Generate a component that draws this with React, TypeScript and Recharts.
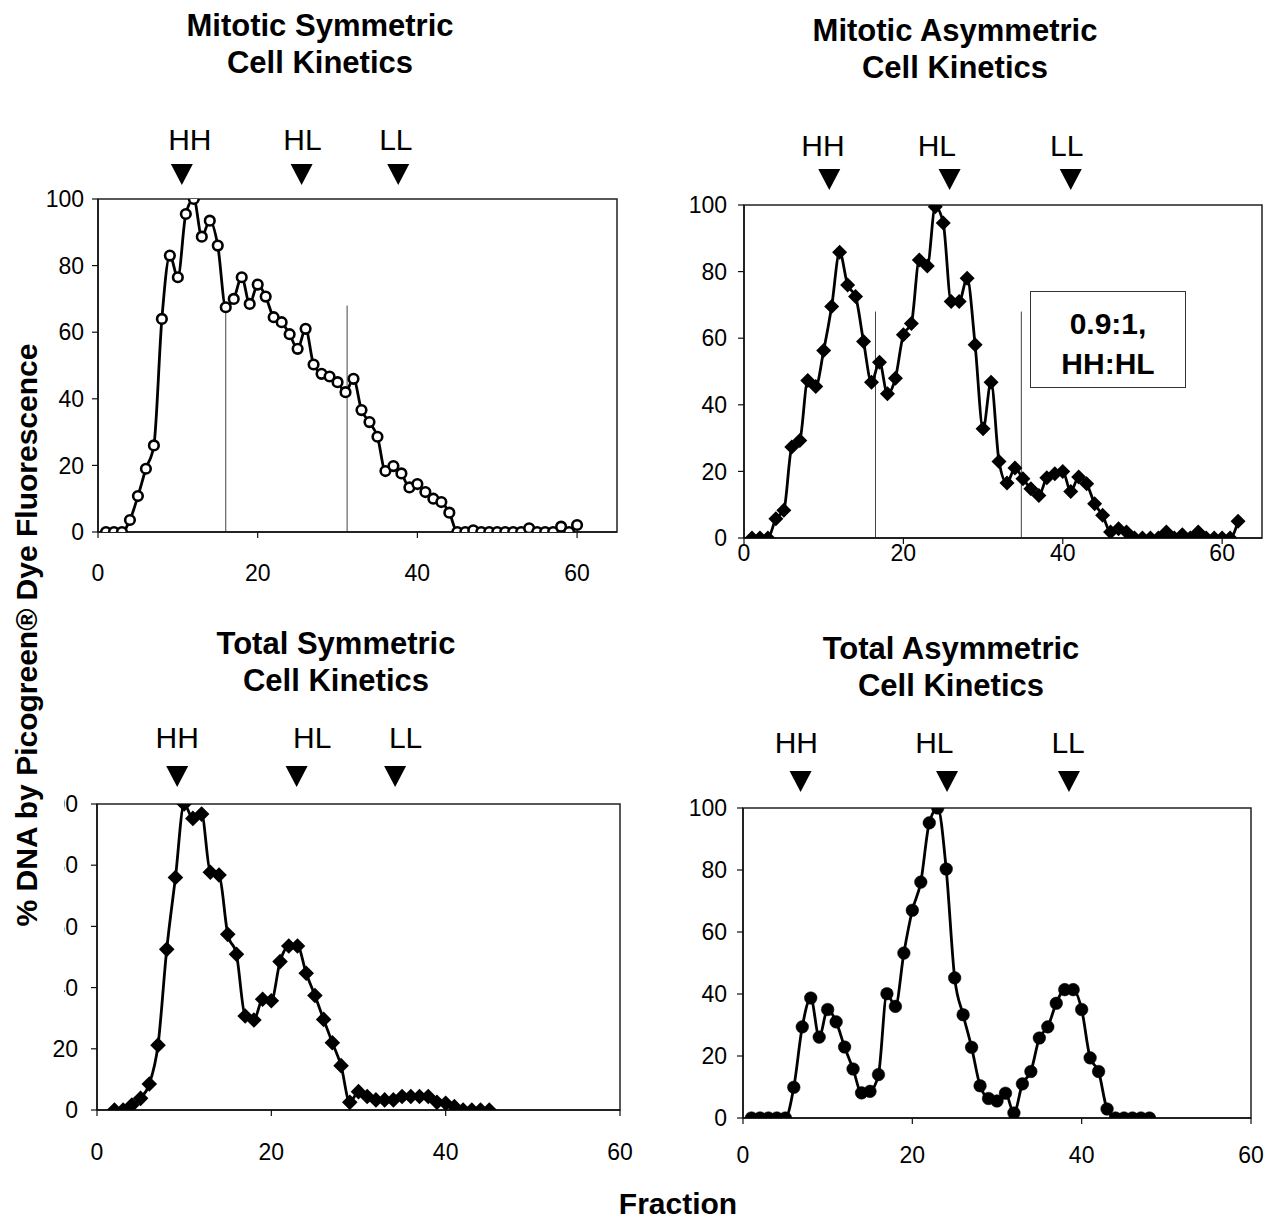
import React from 'react';
import { LineChart, Line, XAxis, YAxis, ReferenceLine, ReferenceDot, ReferenceArea } from 'recharts';

const FONT = '"Liberation Sans", Arial, Helvetica, sans-serif';

// ---- Data (values in % DNA, by fraction number) ----
const mitoticSymmetricStart = 1;
const mitoticSymmetricValues = [
  0, 0, 0, 3.6, 10.8, 19, 26, 64, 83, 76.5,
  95.5, 100, 88.7, 93.5, 86, 67.5, 70, 76.5, 68.5, 74.3,
  70.7, 64.5, 63, 59.4, 55, 61, 50.3, 47.5, 46.7, 45,
  42, 46, 36.6, 33, 28.6, 18.3, 19.8, 17.6, 13.4, 14.4,
  12, 10, 9, 5.8, 0, 0, 0.5, 0, 0, 0,
  0, 0, 0, 1.1, 0, 0, 0, 1.6, 0, 2.1,
];

const mitoticAsymmetricStart = 1;
const mitoticAsymmetricValues = [
  0, 0, 0, 5.8, 8.3, 27.3, 29.3, 47.3, 45.5, 56.3,
  69.5, 85.8, 76, 72.5, 59, 46.8, 52.8, 43.3, 48, 61,
  64.4, 83.5, 81.7, 99.5, 94.6, 71, 71, 78, 58, 32.8,
  46.8, 23, 16.5, 21, 17.8, 14.8, 12.8, 18.1, 19.3, 20,
  14, 18.3, 16.3, 10.3, 6.8, 1.8, 2.8, 1.8, 0, 0,
  0, 0, 1.8, 0, 1, 0, 1.8, 0, 0, 0,
  0, 5,
];

const totalSymmetricStart = 2;
const totalSymmetricValues = [
  0, 0, 1.6, 3.8, 8.5, 21.2, 52.5, 76, 100, 95.3,
  96.7, 77.7, 76.8, 57.4, 50.9, 30.7, 29.4, 36.2, 35.7, 48.5,
  53.6, 53.6, 44.7, 37.4, 29.6, 22, 14.5, 2.5, 6, 4.4,
  3.3, 3.3, 3.3, 4.4, 4.4, 4.4, 4.4, 2.5, 2.2, 1.1,
  0, 0, 0, 0,
];

const totalAsymmetricStart = 1;
const totalAsymmetricValues = [
  0, 0, 0, 0, 0, 9.9, 29.4, 38.7, 26.1, 35,
  31, 22.9, 15.8, 8.1, 8.6, 14, 40.1, 36, 53.2, 67,
  76.1, 95.2, 100, 80.3, 45.2, 33.3, 22.8, 10.4, 6.3, 5.5,
  8, 1.6, 11, 15, 25.8, 29.4, 37, 41.4, 41.4, 35,
  19.4, 15, 2.9, 0, 0, 0, 0, 0,
];

// Band markers: triangle position and label position (fraction units)
const bandLabels = ['HH', 'HL', 'LL'];
const mitoticSymmetricBands = [10.5, 25.5, 37.6];
const mitoticSymmetricBandLabels = [11.5, 25.6, 37.3];
const mitoticAsymmetricBands = [10.7, 25.8, 41];
const mitoticAsymmetricBandLabels = [9.9, 24.2, 40.5];
const totalSymmetricBands = [9.2, 22.9, 34.2];
const totalSymmetricBandLabels = [9.2, 24.7, 35.4];
const totalAsymmetricBands = [6.8, 24.1, 38.5];
const totalAsymmetricBandLabels = [6.3, 22.6, 38.4];

// Divider lines (fraction, height in %)
const mitoticSymmetricDividers = [16.0, 31.2];
const mitoticAsymmetricDividers = [16.5, 34.8];
const dividerHeight = 68;

const xTicks = [0, 20, 40, 60];
const yTicks = [0, 20, 40, 60, 80, 100];

const toRows = (start: number, values: number[]) => values.map((v, i) => ({ f: start + i, v }));

type DotKind = 'openCircle' | 'diamond' | 'bigDiamond' | 'circle';

const makeDot = (kind: DotKind) => (p: any) => {
  const { cx, cy, index } = p;
  if (cx == null || cy == null) return <g key={`e-${index}`} />;
  if (kind === 'openCircle') {
    return <circle key={`d-${index}`} cx={cx} cy={cy} r={4.8} fill="#fff" stroke="#000" strokeWidth={2.6} />;
  }
  if (kind === 'circle') {
    return <circle key={`d-${index}`} cx={cx} cy={cy} r={6.3} fill="#000" stroke="#000" strokeWidth={0.5} />;
  }
  const h = kind === 'bigDiamond' ? 7.8 : 7.5;
  return (
    <path
      key={`d-${index}`}
      d={`M${cx},${cy - h} L${cx + h},${cy} L${cx},${cy + h} L${cx - h},${cy} Z`}
      fill="#000"
    />
  );
};

interface PanelProps {
  left: number;
  top: number;
  width: number;
  height: number;
  xMax: number;
  rows: { f: number; v: number }[];
  dot: DotKind;
  bands: number[];
  bandLabelPos: number[];
  triOff: number;
  labelOff: number;
  dividers?: number[];
  xTickMargin: number;
  yTickMargin: number;
}

const ML = 80;
const MT = 90;
const MR = 30;

const Panel = (props: PanelProps) => {
  const { left, top, width, height, xMax, rows, dot, bands, bandLabelPos, triOff, labelOff, dividers, xTickMargin, yTickMargin } = props;
  const W = width + ML + MR;
  const H = height + MT + 60;
  return (
    <div style={{ position: 'absolute', left: left - ML, top: top - MT, width: W, height: H }}>
      <LineChart width={W} height={H} data={rows} margin={{ top: MT, right: MR, bottom: 0, left: 0 }}>
        <XAxis
          type="number"
          dataKey="f"
          domain={[0, xMax]}
          ticks={xTicks}
          interval={0}
          allowDataOverflow
          height={60}
          tickSize={6}
          tickMargin={xTickMargin}
          axisLine={{ stroke: '#111', strokeWidth: 1.5 }}
          tickLine={{ stroke: '#111', strokeWidth: 1.2 }}
          tick={{ fontSize: 23, fill: '#000', fontFamily: FONT }}
        />
        <YAxis
          type="number"
          domain={[0, 100]}
          ticks={yTicks}
          interval={0}
          allowDataOverflow
          width={ML}
          tickSize={6}
          tickMargin={yTickMargin}
          axisLine={{ stroke: '#111', strokeWidth: 1.5 }}
          tickLine={{ stroke: '#111', strokeWidth: 1.2 }}
          tick={{ fontSize: 23, fill: '#000', fontFamily: FONT }}
        />
        <ReferenceArea x1={0} x2={xMax} y1={0} y2={100} fill="none" fillOpacity={0} stroke="#222" strokeWidth={1.5} ifOverflow="visible" />
        {(dividers || []).map((d, i) => (
          <ReferenceLine key={`div-${i}`} segment={[{ x: d, y: 0 }, { x: d, y: dividerHeight }]} stroke="#444" strokeWidth={1} ifOverflow="visible" />
        ))}
        <Line
          type="monotone"
          dataKey="v"
          stroke="#000"
          strokeWidth={2.8}
          dot={makeDot(dot)}
          activeDot={false}
          isAnimationActive={false}
        />
        {bands.map((b, i) => (
          <ReferenceDot
            key={`tri-${i}`}
            x={b}
            y={100}
            ifOverflow="visible"
            shape={(p: any) => (
              <path
                d={`M${p.cx - 11},${p.cy - triOff - 21} L${p.cx + 11},${p.cy - triOff - 21} L${p.cx},${p.cy - triOff} Z`}
                fill="#000"
              />
            )}
          />
        ))}
        {bandLabelPos.map((b, i) => (
          <ReferenceDot
            key={`lab-${i}`}
            x={b}
            y={100}
            ifOverflow="visible"
            shape={(p: any) => (
              <text x={p.cx} y={p.cy - labelOff} textAnchor="middle" fontSize={30} fontFamily={FONT} fill="#000">
                {bandLabels[i]}
              </text>
            )}
          />
        ))}
      </LineChart>
    </div>
  );
};

const Title = ({ cx, y1, lines }: { cx: number; y1: number; lines: string[] }) => (
  <div
    style={{
      position: 'absolute',
      left: cx - 250,
      top: y1 - 18.5,
      width: 500,
      textAlign: 'center',
      fontFamily: FONT,
      fontWeight: 'bold',
      fontSize: 31,
      lineHeight: '37px',
      color: '#000',
    }}
  >
    {lines.map((l, i) => (
      <div key={i}>{l}</div>
    ))}
  </div>
);

export default function App() {
  return (
    <div style={{ position: 'absolute', left: 0, top: 0, width: 1273, height: 1219, background: '#fff', overflow: 'hidden' }}>
      <Title cx={320} y1={25} lines={['Mitotic Symmetric', 'Cell Kinetics']} />
      <Title cx={955} y1={30} lines={['Mitotic Asymmetric', 'Cell Kinetics']} />
      <Title cx={336} y1={643} lines={['Total Symmetric', 'Cell Kinetics']} />
      <Title cx={951} y1={648} lines={['Total Asymmetric', 'Cell Kinetics']} />

      <Panel
        left={98}
        top={199}
        width={519}
        height={333}
        xMax={65}
        rows={toRows(mitoticSymmetricStart, mitoticSymmetricValues)}
        dot="openCircle"
        bands={mitoticSymmetricBands}
        bandLabelPos={mitoticSymmetricBandLabels}
        triOff={14}
        labelOff={49}
        dividers={mitoticSymmetricDividers}
        xTickMargin={27}
        yTickMargin={8}
      />
      <Panel
        left={744}
        top={205}
        width={518}
        height={333}
        xMax={65}
        rows={toRows(mitoticAsymmetricStart, mitoticAsymmetricValues)}
        dot="diamond"
        bands={mitoticAsymmetricBands}
        bandLabelPos={mitoticAsymmetricBandLabels}
        triOff={15}
        labelOff={49}
        dividers={mitoticAsymmetricDividers}
        xTickMargin={1}
        yTickMargin={11}
      />
      <Panel
        left={97}
        top={804}
        width={523}
        height={306}
        xMax={60}
        rows={toRows(totalSymmetricStart, totalSymmetricValues)}
        dot="bigDiamond"
        bands={totalSymmetricBands}
        bandLabelPos={totalSymmetricBandLabels}
        triOff={17}
        labelOff={56}
        xTickMargin={28}
        yTickMargin={13}
      />
      <Panel
        left={743}
        top={808}
        width={508}
        height={310}
        xMax={60}
        rows={toRows(totalAsymmetricStart, totalAsymmetricValues)}
        dot="circle"
        bands={totalAsymmetricBands}
        bandLabelPos={totalAsymmetricBandLabels}
        triOff={16}
        labelOff={55}
        xTickMargin={23}
        yTickMargin={10}
      />

      <div
        style={{
          position: 'absolute',
          left: 1030,
          top: 291,
          width: 156,
          height: 97,
          boxSizing: 'border-box',
          border: '1.5px solid #333',
          background: '#fff',
          paddingTop: 12,
          textAlign: 'center',
          fontFamily: FONT,
          fontWeight: 'bold',
          fontSize: 30,
          lineHeight: '40px',
          color: '#000',
        }}
      >
        <div>0.9:1,</div>
        <div>HH:HL</div>
      </div>

      {/* white strip behind the vertical axis title (as in the original layout) */}
      <div style={{ position: 'absolute', left: 0, top: 600, width: 64, height: 415, background: '#fff' }} />

      <div
        style={{
          position: 'absolute',
          left: 27 - 350,
          top: 635 - 20,
          width: 700,
          height: 40,
          lineHeight: '40px',
          textAlign: 'center',
          transform: 'rotate(-90deg)',
          fontFamily: FONT,
          fontWeight: 'bold',
          fontSize: 30,
          color: '#000',
          whiteSpace: 'nowrap',
        }}
      >
        % DNA by Picogreen® Dye Fluorescence
      </div>

      <div
        style={{
          position: 'absolute',
          left: 678 - 150,
          top: 1188,
          width: 300,
          height: 31,
          lineHeight: '31px',
          textAlign: 'center',
          fontFamily: FONT,
          fontWeight: 'bold',
          fontSize: 30,
          color: '#000',
        }}
      >
        Fraction
      </div>
    </div>
  );
}
